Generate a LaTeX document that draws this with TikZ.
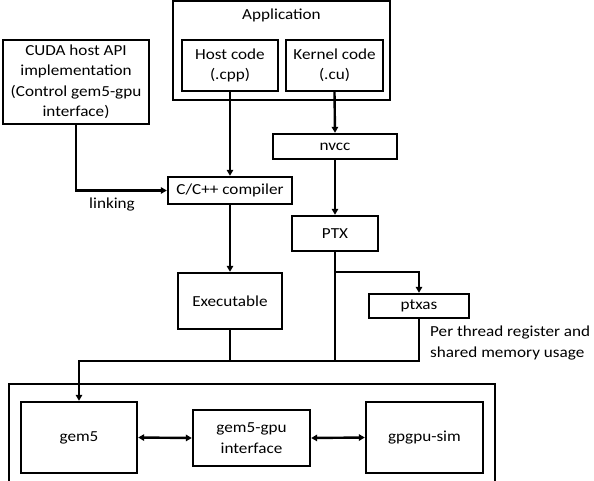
\documentclass[tikz,border=0pt]{standalone}
\usepackage{fontspec}
\setmainfont{Carlito}[FakeStretch=1.12]
\usetikzlibrary{arrows.meta}
\begin{document}
\begin{tikzpicture}[x=1pt,y=-1pt,
  every node/.style={font=\fontsize{15.3}{20.5}\selectfont},
  box/.style={draw,line width=2.4pt,inner sep=0pt,align=center},
  wire/.style={line width=2.4pt},
  arr/.style={wire,-{Triangle[length=6pt,width=6.5pt]}},
  darr/.style={wire,{Triangle[length=6pt,width=6.5pt]}-{Triangle[length=6pt,width=6.5pt]}}]
\useasboundingbox (0,0) rectangle (594,481);
\begin{scope}
\clip (0,0) rectangle (594,481);
% Application container
\node[box,minimum width=217pt,minimum height=99pt] (app) at (281.5,50.5) {};
\node (apptxt) at (281.5,15) {Application};
\node[box,minimum width=96pt,minimum height=51pt] (host) at (230,65.5) {Host code\\(.cpp)};
\node[box,minimum width=97pt,minimum height=51pt] (kern) at (334.5,65.5) {Kernel code\\(.cu)};
\node[box,minimum width=146pt,minimum height=84pt] (cuda) at (76,82) {CUDA host API\\implementation\\(Control gem5-gpu\\interface)};
\node[box,minimum width=124pt,minimum height=27pt] (cc) at (230,190.5) {C/C++ compiler};
\node[box,minimum width=124pt,minimum height=25pt] (nvcc) at (335,146.5) {nvcc};
\node[box,minimum width=86pt,minimum height=35pt] (ptx) at (335,233.5) {PTX};
\node[box,minimum width=104pt,minimum height=56pt] (exe) at (230,301) {Executable};
\node[box,minimum width=100pt,minimum height=24pt] (ptxas) at (419,306) {ptxas};
\node[anchor=west,align=left,inner sep=0pt] (note) at (430,343) {Per thread register and\\shared memory usage};
\node (link) at (112,205) {linking};
% simulator container
\draw[line width=2.4pt] (9,500) -- (9,384) -- (495,384) -- (495,500);
\node[box,minimum width=116pt,minimum height=71pt] (gem5) at (79,437.5) {gem5};
\node[box,minimum width=117pt,minimum height=56pt] (iface) at (251.5,438) {gem5-gpu\\interface};
\node[box,minimum width=117pt,minimum height=71pt] (gpgpu) at (424.5,437.5) {gpgpu-sim};
% connectors
\coordinate (bus) at (0,361);
\coordinate (br) at (0,272);
\draw[arr] (cuda.south) |- (cc.west);
\draw[arr] (host.south) -- (cc.north);
\draw[arr] (kern.south) -- (nvcc.north);
\draw[arr] (nvcc.south) -- (ptx.north);
\draw[arr] (cc.south) -- (exe.north);
\draw[arr] (ptx.south |- br) -| (ptxas.north);
\draw[wire] (exe.south) -- (exe.south |- bus);
\draw[wire] (ptx.south) -- (ptx.south |- bus);
\draw[arr] (ptxas.south) |- (gem5.north |- bus) -- (gem5.north);
\draw[darr] (gem5.east) -- (iface.west);
\draw[darr] (iface.east) -- (gpgpu.west);
\end{scope}
\end{tikzpicture}
\end{document}
